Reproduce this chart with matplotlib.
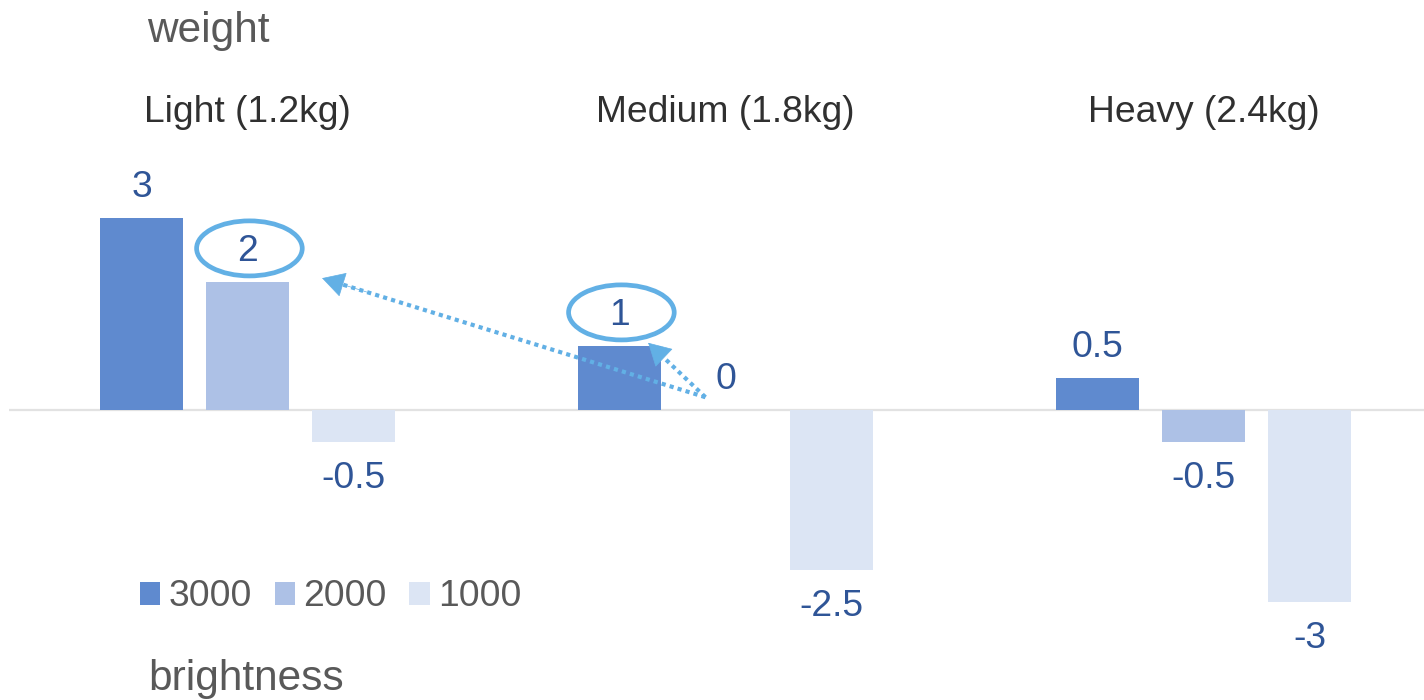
import matplotlib
matplotlib.use("Agg")
import matplotlib.pyplot as plt
from matplotlib.patches import Ellipse
import numpy as np

# ---- data ----
categories = ["Light (1.2kg)", "Medium (1.8kg)", "Heavy (2.4kg)"]
series_names = ["3000", "2000", "1000"]
values_3000 = [3, 1, 0.5]
values_2000 = [2, 0, -0.5]
values_1000 = [-0.5, -2.5, -3]
series_values = [values_3000, values_2000, values_1000]
x_title = "weight"
legend_title = "brightness"

# ---- style ----
colors = ["#5F8ACF", "#ADC1E6", "#DCE5F4"]
label_color = "#2F5597"
cat_color = "#303030"
title_color = "#595959"
mark_color = "#62B0E5"
font = "Liberation Sans"
fs_main = 26.8
fs_title = 30.5

W, H, DPI = 1424, 700, 100
fig = plt.figure(figsize=(W / DPI, H / DPI), dpi=DPI)
ax = fig.add_axes([0, 0, 1, 1])
ax.set_axis_off()

# layout: one category per x unit, bars in three slots
bar_w = 0.1736
slot = 0.2218
ax.set_xlim(-0.5178, 2.4613)
ax.set_ylim(-4.531, 6.406)

x = np.arange(len(categories))
offsets = [-slot, 0, slot]

# baseline
ax.plot([-0.5, 2.4613], [0, 0], color="#E2E2E2", lw=1.6, zorder=1, solid_capstyle="butt")

bars = []
for vals, off, col, name in zip(series_values, offsets, colors, series_names):
    b = ax.bar(x + off, vals, width=bar_w, color=col, label=name, zorder=2, linewidth=0)
    bars.append(b)
    for xi, v in zip(x + off, vals):
        dy = 15.1 if v >= 0 else -33.1
        ax.annotate(f"{v:g}", xy=(xi, v), xytext=(0, dy), textcoords="offset points",
                    ha="center", va="baseline", color=label_color,
                    fontsize=fs_main, family=font)

# category labels across the top
for xi, name in zip(x, categories):
    ax.text(xi, 4.5, name, ha="center", va="baseline", color=cat_color,
            fontsize=fs_main, family=font)

fig.text(147 / W, 1 - 42 / H, x_title, ha="left", va="baseline",
         color=title_color, fontsize=fs_title, family=font)
fig.text(148 / W, 1 - 690 / H, legend_title, ha="left", va="baseline",
         color=title_color, fontsize=fs_title, family=font)

# legend
leg = ax.legend(handles=bars, loc="center left",
                bbox_to_anchor=(140 / W, 1 - 597 / H), bbox_transform=fig.transFigure,
                ncol=3, frameon=False, prop={"family": font, "size": fs_main},
                handlelength=0.55, handleheight=0.55, handletextpad=0.22,
                columnspacing=0.61, borderpad=0, borderaxespad=0)
for t in leg.get_texts():
    t.set_color(title_color)

# highlight ellipses around two value labels
hi = [(0, 1), (1, 0)]  # (category, series)
for ci, si in hi:
    v = series_values[si][ci]
    cx = x[ci] + offsets[si] + 0.004
    cy = v + 0.525
    ax.add_patch(Ellipse((cx, cy), 0.221, 0.86, fill=False, ec=mark_color, lw=3.4, zorder=4))

# dotted arrows from the empty Medium/2000 bar
tail = np.array([x[1] + offsets[1] - 0.042, 0.2])
heads = [np.array([x[0] + offsets[1] + 0.156, 2.06]),
         np.array([x[1] + offsets[0] + 0.06, 1.05])]
for head in heads:
    # dotted shaft
    ax.annotate("", xy=head, xytext=tail,
                arrowprops=dict(arrowstyle="-", color=mark_color, lw=3.0,
                                linestyle=(0, (1, 1)), shrinkA=0, shrinkB=12,
                                capstyle="butt"))
    # solid arrow head
    d = head - tail
    back = head - d * 0.12
    ax.annotate("", xy=head, xytext=back,
                arrowprops=dict(arrowstyle="-|>,head_length=0.5,head_width=0.28",
                                color=mark_color, lw=0.5, shrinkA=0, shrinkB=0,
                                mutation_scale=30))

fig.savefig("out.png", dpi=DPI)
